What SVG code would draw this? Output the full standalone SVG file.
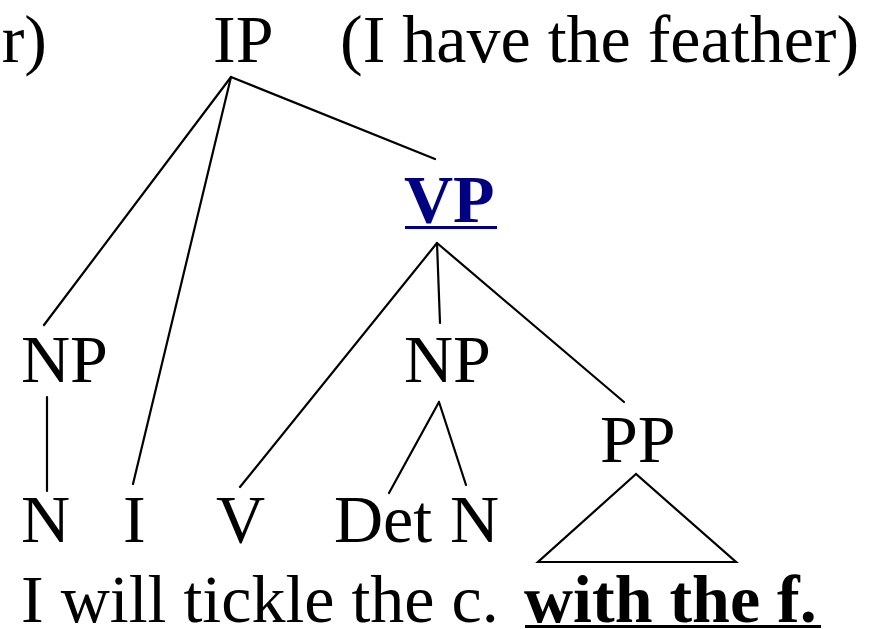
<svg xmlns="http://www.w3.org/2000/svg" width="886" height="629" viewBox="0 0 886 629">
  <style>
    text { font-family: "Liberation Serif", "Times New Roman", serif; font-size: 68px; fill: #000; }
    .b { font-weight: bold; }
    .hl { font-weight: bold; fill: #000080; }
    .edge { stroke: #000; stroke-width: 2.2; fill: none; stroke-linecap: round; }
  </style>
  <rect width="886" height="629" fill="#fff"/>

  <!-- tree edges -->
  <g id="connectors">
    <line class="edge" x1="231" y1="77" x2="44" y2="325"/>
    <line class="edge" x1="231" y1="77" x2="133" y2="484"/>
    <line class="edge" x1="231" y1="77" x2="435" y2="159"/>
    <line class="edge" x1="437" y1="243" x2="240" y2="487"/>
    <line class="edge" x1="437" y1="243" x2="440" y2="323"/>
    <line class="edge" x1="437" y1="243" x2="624" y2="402"/>
    <line class="edge" x1="47" y1="397" x2="47" y2="491"/>
    <line class="edge" x1="439" y1="402" x2="389" y2="493"/>
    <line class="edge" x1="439" y1="402" x2="466" y2="485"/>
    <polygon class="edge" points="636,474 538,562 736,562"/>
  </g>

  <!-- glosses -->
  <g id="gloss-left"><text x="47" y="62" text-anchor="end">er)</text></g>
  <g id="gloss-right"><text x="340" y="62">(I have the feather)</text></g>

  <g id="IP"><text x="213" y="62" font-size="70">IP</text></g>
  <g id="VP">
    <text class="hl" x="404" y="222">VP</text>
    <rect x="405" y="226" width="92" height="3" fill="#000080"/>
  </g>
  <g id="NP-subj"><text x="21" y="382">NP</text></g>
  <g id="NP-obj"><text x="404" y="382">NP</text></g>
  <g id="PP"><text x="600" y="462">PP</text></g>
  <g id="N-subj"><text x="21" y="542">N</text></g>
  <g id="I"><text x="123" y="542">I</text></g>
  <g id="V"><text x="216" y="542">V</text></g>
  <g id="Det"><text x="334" y="542">Det</text></g>
  <g id="N-obj"><text x="450" y="542">N</text></g>

  <g id="sentence">
    <text x="21" y="622">I will tickle the c.</text>
    <text class="b" x="524" y="622" font-size="69">with the f.</text>
    <rect x="525" y="625" width="296" height="3" fill="#000"/>
  </g>
</svg>
